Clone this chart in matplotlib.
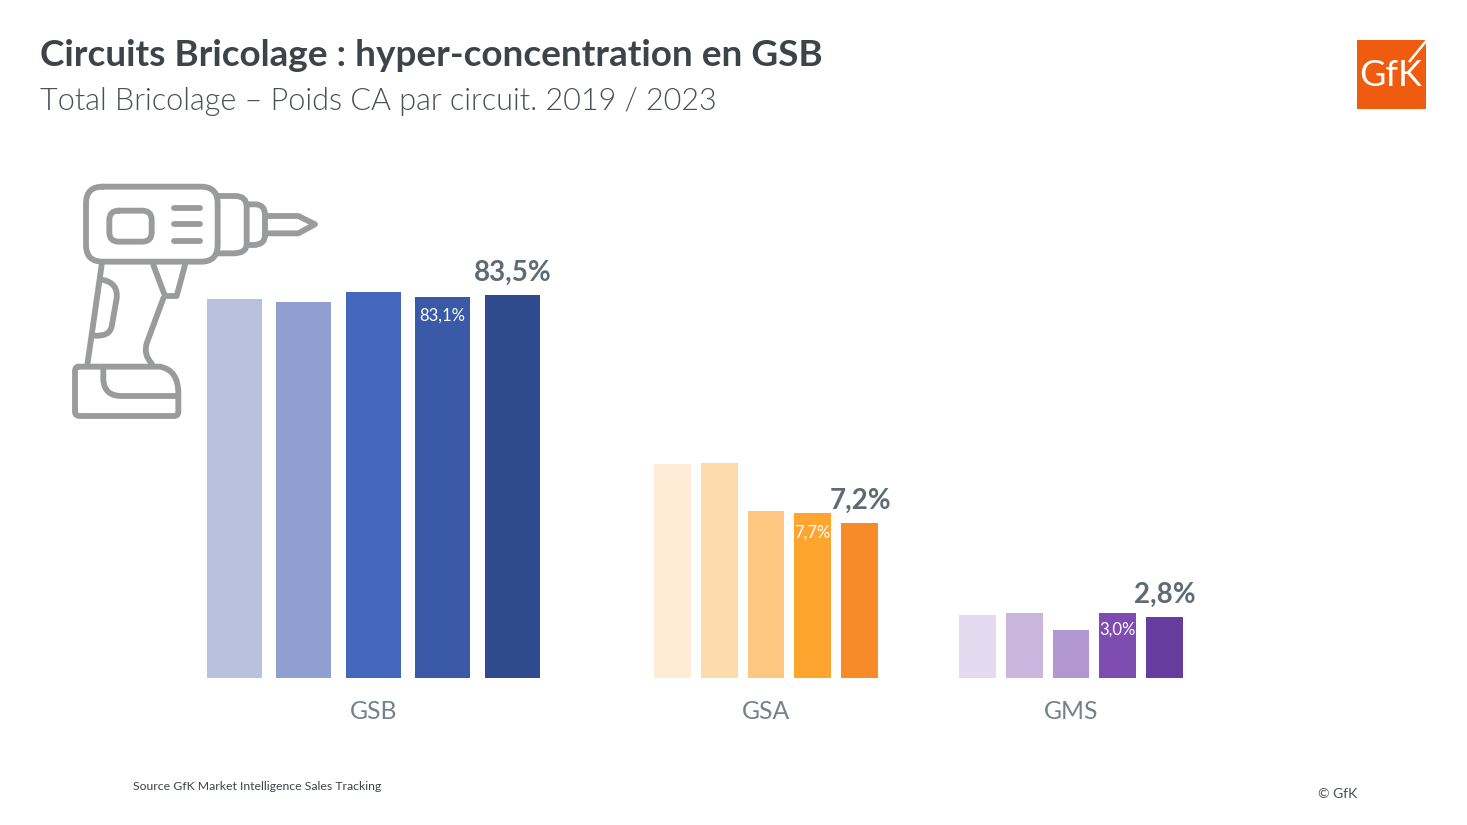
import matplotlib
matplotlib.use("Agg")
import matplotlib.pyplot as plt
from matplotlib.patches import PathPatch, Rectangle
from matplotlib.path import Path

plt.rcParams['font.family'] = ['Lato', 'DejaVu Sans']

W, H = 1467, 825

gsb_values = [82.6, 82.0, 84.1, 83.1, 83.5]
gsa_values = [9.95, 10.0, 7.75, 7.65, 7.2]
gms_values = [2.9, 3.0, 2.2, 3.0, 2.8]

gsb_colors = ['#b9c1de', '#919fd0', '#4267bd', '#3a59a6', '#2f4b8d']
gsa_colors = ['#feecd6', '#fedbab', '#fec781', '#fea52f', '#f78a29']
gms_colors = ['#e3daef', '#c8b6de', '#b196d2', '#7e4cb0', '#673c9f']

group_names = ['GSB', 'GSA', 'GMS']
big_labels = ['83,5%', '7,2%', '2,8%']
small_labels = ['83,1%', '7,7%', '3,0%']

GREY = '#5f6b73'
ICON = '#999b9c'


def px_axes(fig, left, right, top, bottom, **kw):
    # axes placed with pixel coords measured from the top left corner
    return fig.add_axes([left / W, 1 - bottom / H, (right - left) / W, (bottom - top) / H], **kw)


def draw_group(ax, values, colors, name, big, small, small_off):
    ax.bar(range(5), values, width=0.79, color=colors)
    ax.set_xlim(-0.5, 4.5)
    ax.set_xticks([2])
    ax.set_xticklabels([name], fontsize=17.8, color='#76828b')
    ax.tick_params(axis='x', length=0, pad=16)
    ax.set_yticks([])
    for s in ax.spines.values():
        s.set_visible(False)
    ax.patch.set_alpha(0)
    ax.annotate(big, (4, values[4]), xytext=(0.5, 16), textcoords='offset points',
                ha='center', va='center', fontsize=20, fontweight='bold', color=GREY)
    ax.annotate(small, (3, values[3]), xytext=(0, small_off), textcoords='offset points',
                ha='center', va='center', fontsize=12, color='white')


def zoom_path(points, codes):
    # icon was measured on a 3x crop starting at (50, 170)
    return Path([(50 + x / 3, 170 + y / 3) for x, y in points], codes)


M, L, Q = Path.MOVETO, Path.LINETO, Path.CURVE3


def rounded(x0, y0, x1, y1, r):
    pts = [(x0 + r, y0), (x1 - r, y0), (x1, y0), (x1, y0 + r), (x1, y1 - r), (x1, y1), (x1 - r, y1),
           (x0 + r, y1), (x0, y1), (x0, y1 - r), (x0, y0 + r), (x0, y0), (x0 + r, y0)]
    codes = [M, L, Q, Q, L, Q, Q, L, Q, Q, L, Q, Q]
    return pts, codes


def draw_drill(ax):
    shapes = [
        rounded(108, 50, 503, 275, 50),
        rounded(178, 122, 305, 215, 28),
        ([(372, 113), (450, 113)], [M, L]),
        ([(372, 163), (450, 163)], [M, L]),
        ([(372, 214), (450, 214)], [M, L]),
        ([(505, 78), (555, 78), (590, 78), (590, 110), (590, 222), (590, 250), (550, 250), (505, 250)],
         [M, L, Q, Q, L, Q, Q, L]),
        ([(590, 103), (615, 103), (645, 103), (645, 135), (645, 195), (645, 225), (610, 225), (590, 225)],
         [M, L, Q, Q, L, Q, Q, L]),
        ([(645, 138), (745, 138), (795, 163), (745, 190), (645, 190)], [M, L, L, L, L]),
        ([(310, 285), (345, 378), (380, 378), (405, 285)], [M, L, L, L]),
        ([(155, 285), (112, 585)], [M, L]),
        ([(340, 385), (290, 520), (280, 555), (305, 580)], [M, L, Q, Q]),
        ([(160, 330), (205, 340), (200, 385), (185, 470), (178, 500), (135, 497)], [M, Q, Q, L, Q, Q]),
        ([(85, 590), (330, 590), (385, 600), (385, 670), (385, 725), (385, 738), (372, 738), (90, 738),
          (75, 738), (75, 725), (75, 605), (75, 590), (85, 590)],
         [M, L, Q, Q, L, Q, Q, L, Q, Q, L, Q, Q]),
        ([(160, 590), (160, 630), (163, 678), (215, 678), (385, 678)], [M, L, Q, Q, L]),
    ]
    for pts, codes in shapes:
        ax.add_patch(PathPatch(zoom_path(pts, codes), fc='none', ec=ICON, lw=4.2, capstyle='round', joinstyle='round'))


fig = plt.figure(figsize=(W / 100, H / 100), dpi=100, facecolor='white')

# overlay in pixel coords for the icon and the logo
bg = fig.add_axes([0, 0, 1, 1])
bg.set_xlim(0, W)
bg.set_ylim(H, 0)
bg.axis('off')
draw_drill(bg)

bg.add_patch(Rectangle((1357, 40), 69, 69, fc='#f05c0f', ec='none'))
bg.plot([1409, 1427], [62, 40], color='white', lw=1.8, solid_capstyle='butt')
bg.text(1391, 75, 'GfK', color='white', fontsize=26, ha='center', va='center')

# baseline shared, y scale differs: GSB is not on the same scale as the other two
top, base = 250, 678
ax1 = px_axes(fig, 199.5, 547, top, base)
ax1.set_ylim(0, 93.3)
draw_group(ax1, gsb_values, gsb_colors, group_names[0], big_labels[0], small_labels[0], -13.5)

ax2 = px_axes(fig, 649, 883, top, base)
ax2.set_ylim(0, 19.9)
draw_group(ax2, gsa_values, gsa_colors, group_names[1], big_labels[1], small_labels[1], -13.5)

ax3 = px_axes(fig, 954, 1188, top, base)
ax3.set_ylim(0, 19.8)
draw_group(ax3, gms_values, gms_colors, group_names[2], big_labels[2], small_labels[2], -12)

fig.text(40 / W, 1 - 56 / H, 'Circuits Bricolage : hyper-concentration en GSB', fontsize=26.6, fontweight='bold',
         color='#3d4349', ha='left', va='center')
fig.text(40 / W, 1 - 101 / H, 'Total Bricolage – Poids CA par circuit. 2019 / 2023', fontsize=21.97, fontweight=300,
         color='#4a5056', ha='left', va='center')
fig.text(133 / W, 1 - 786 / H, 'Source GfK Market Intelligence Sales Tracking', fontsize=8.85, color='#3d4349',
         ha='left', va='center')
fig.text(1318 / W, 1 - 794 / H, '© GfK', fontsize=10, color='#4a5056', ha='left', va='center')

fig.savefig('out.png', dpi=100)
